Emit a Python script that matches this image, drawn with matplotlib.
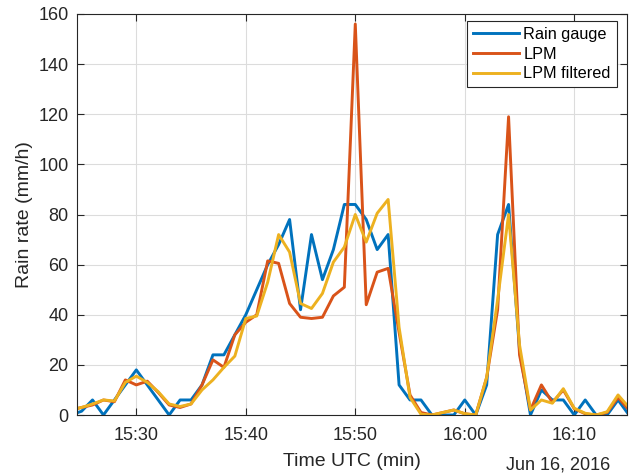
import numpy as np
import pandas as pd
import matplotlib
matplotlib.use("Agg")
import matplotlib.pyplot as plt
import matplotlib.dates as mdates

plt.rcParams['font.family'] = ['Liberation Sans', 'DejaVu Sans']

# one sample per minute, 15:24 .. 16:15 UTC
times = pd.date_range("2016-06-16 15:24", "2016-06-16 16:15", freq="min")

rain_gauge = [0, 1.5, 6, 0, 6, 12, 18, 12, 6, 0,
              6, 6, 12, 24, 24, 32, 40, 50, 60, 68,
              78, 42, 72, 54, 66, 84, 84, 78, 66, 72,
              12, 6, 6, 0, 0, 0, 6, 0, 12, 72,
              84, 26, 0, 10, 6, 6, 0, 6, 0, 0,
              6, 0]
lpm = [2, 3, 4, 6, 5.3, 14, 12, 13.5, 9, 4,
       3, 4.4, 12, 22, 19, 32, 37, 40, 61.5, 60.5,
       44.5, 39, 38.5, 39, 47.5, 51, 156, 44, 57, 58.5,
       33, 8, 1, 0, 1, 2, 0.5, 0, 15, 42,
       119, 24, 2, 12, 5, 10, 2.5, 0.5, 0, 1,
       7, 2]
lpm_filtered = [2, 3, 4.4, 6, 5.6, 13, 15.5, 13, 9.3, 4.4,
                3.4, 4.4, 10, 14, 19, 23.5, 38.5, 39.5, 53, 72,
                65, 44.5, 42.5, 48.5, 61, 67, 80, 69, 80.5, 86,
                35, 7, 0.3, 0, 1, 2, 0.5, 0, 15, 46,
                80, 28, 2, 6, 4.7, 10.5, 2.7, 0.7, 0, 1.3,
                8, 3]

blue = '#0072BD'
orange = '#D95319'
yellow = '#EDB120'
dark = '#262626'

fig = plt.figure(figsize=(6.36, 4.75), dpi=100)
ax = fig.add_axes([77/636, 1 - 415/475, 550/636, 401/475])

ax.plot(times, rain_gauge, color=blue, lw=2.1, label='Rain gauge')
ax.plot(times, lpm, color=orange, lw=2.1, label='LPM')
ax.plot(times, lpm_filtered, color=yellow, lw=2.1, label='LPM filtered')

ax.set_xlim(pd.Timestamp("2016-06-16 15:24:35"), pd.Timestamp("2016-06-16 16:14:49"))
ax.set_ylim(0, 160)
ax.set_yticks(np.arange(0, 161, 20))
ax.xaxis.set_major_locator(mdates.MinuteLocator(byminute=[0, 10, 20, 30, 40, 50]))
ax.xaxis.set_major_formatter(mdates.DateFormatter('%H:%M'))

ax.grid(True, color='#dcdcdc', lw=0.8)
ax.set_axisbelow(True)
for s in ax.spines.values():
    s.set_color(dark)
    s.set_linewidth(0.8)
ax.tick_params(direction='in', length=5, width=0.8, top=True, right=True,
               colors=dark, labelsize=13)
ax.tick_params(axis='x', pad=9)
ax.tick_params(axis='y', pad=6)

ax.set_ylabel('Rain rate (mm/h)', fontsize=14, color=dark, labelpad=4)
ax.set_xlabel('Time UTC (min)', fontsize=14, color=dark, labelpad=6)
fig.text(610/636, 1 - 465/475, 'Jun 16, 2016', fontsize=13, color=dark,
         ha='right', va='center')

leg = ax.legend(loc='upper right', bbox_to_anchor=(0.981, 0.9825), borderaxespad=0,
                fontsize=11.7, fancybox=False, framealpha=1, edgecolor=dark,
                handlelength=2.8, handletextpad=0.3, labelspacing=0.3,
                borderpad=0.35)
leg.get_frame().set_linewidth(0.8)

fig.savefig('out.png', dpi=100)
